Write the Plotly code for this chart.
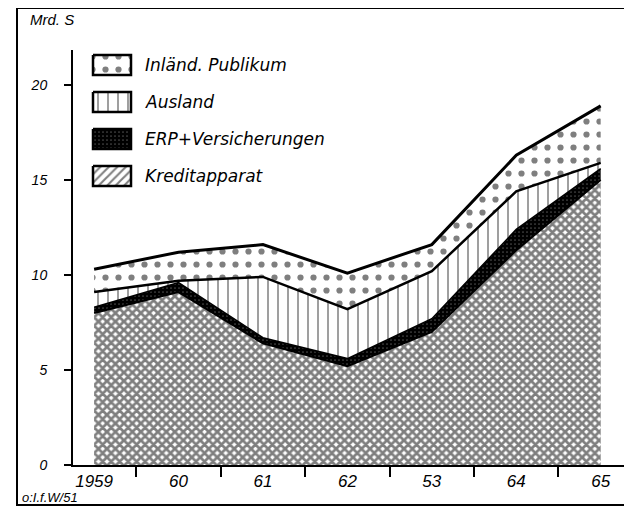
import plotly.graph_objects as go

years = [1959, 1960, 1961, 1962, 1963, 1964, 1965]
year_labels = ["1959", "60", "61", "62", "53", "64", "65"]
kreditapparat = [8.0, 9.1, 6.4, 5.2, 7.0, 11.3, 15.0]
erp_versicherungen = [0.3, 0.5, 0.3, 0.4, 0.7, 1.1, 0.6]
ausland = [0.8, 0.1, 3.2, 2.6, 2.5, 2.0, 0.3]
inland_publikum = [1.2, 1.5, 1.7, 1.9, 1.4, 1.9, 3.0]
y_ticks = [0, 5, 10, 15, 20]
legend_names = ["Inländ. Publikum", "Ausland", "ERP+Versicherungen", "Kreditapparat"]

FONT = "DejaVu Sans"
TFONT = "Liberation Sans"

# page offset (browser body margin) and plot area in page pixels
OFF = 8
PL, PR, PT, PB = 73, 626, 50, 465
W, H = 624, 504


def px_x(p):
    return (p - PL) / (PR - PL)


def px_y(p):
    return (PB - p) / (PB - PT)


pat_kredit = dict(shape="x", size=6, solidity=0.7, fgcolor="black", bgcolor="white")
pat_erp = dict(shape=".", size=4, solidity=0.15, fgcolor="#9a9a9a", bgcolor="black")
pat_ausland = dict(shape="|", size=10, solidity=0.15, fgcolor="black", bgcolor="white")
pat_inland = dict(shape=".", size=13, solidity=0.18, fgcolor="black", bgcolor="white")

fig = go.Figure()

series = [
    ("Kreditapparat", kreditapparat, pat_kredit, 2),
    ("ERP+Versicherungen", erp_versicherungen, pat_erp, 1.5),
    ("Ausland", ausland, pat_ausland, 2.5),
    ("Inländ. Publikum", inland_publikum, pat_inland, 3),
]

for name, vals, pat, lw in series:
    fig.add_trace(go.Scatter(
        x=years, y=vals, name=name, stackgroup="one", mode="lines",
        line=dict(color="black", width=lw),
        fillpattern=pat, fillcolor="white", showlegend=False,
    ))

# custom legend swatches (on an overlay axis measured in page pixels)
legend_pats = [
    pat_inland,
    pat_ausland,
    pat_erp,
    dict(shape="/", size=6, solidity=0.35, fgcolor="black", bgcolor="white"),
]
for i, (nm, pat) in enumerate(zip(legend_names, legend_pats)):
    top = 55 + i * 37
    x0, x1, y0, y1 = 93, 131, top, top + 20
    fig.add_trace(go.Scatter(
        x=[x0, x1, x1, x0, x0], y=[y0, y0, y1, y1, y0],
        xaxis="x2", yaxis="y2", mode="lines", fill="toself",
        fillpattern=pat, fillcolor="white",
        line=dict(color="black", width=2.5),
        showlegend=False, hoverinfo="skip",
    ))
    fig.add_annotation(text=nm, xref="paper", yref="paper",
                       x=px_x(143), y=px_y(top + 10), xanchor="left", yanchor="middle",
                       showarrow=False,
                       font=dict(family=FONT, size=17, style="italic", color="black"))

fig.update_layout(
    width=W, height=H,
    margin=dict(l=PL - OFF, r=W - (PR - OFF), t=PT - OFF, b=H - (PB - OFF)),
    paper_bgcolor="white", plot_bgcolor="white",
    font=dict(family=TFONT, color="black", size=14, style="italic"),
    showlegend=False,
    xaxis=dict(
        range=[1958.75, 1965.3],
        tickmode="array", tickvals=years, ticktext=year_labels,
        ticks="", showgrid=False, zeroline=False,
        showline=True, linecolor="black", linewidth=2,
        tickfont=dict(family=TFONT, size=17, style="italic"),
        minor=dict(tickmode="array", tickvals=[y + 0.5 for y in years[:-1]],
                   ticks="outside", ticklen=10, tickwidth=1.5, tickcolor="black", showgrid=False),
    ),
    yaxis=dict(
        range=[0, (PB - PT) / 19.0],
        tickmode="array", tickvals=y_ticks,
        ticks="outside", ticklen=7, tickwidth=1.5, tickcolor="black",
        ticklabelstandoff=14,
        showgrid=False, zeroline=False,
        showline=True, linecolor="black", linewidth=2,
        tickfont=dict(family=TFONT, size=14, style="italic"),
    ),
    xaxis2=dict(overlaying="x", range=[PL, PR], visible=False, fixedrange=True),
    yaxis2=dict(overlaying="y", range=[PB, PT], visible=False, fixedrange=True),
)

# outer frame
fig.add_shape(type="rect", xref="paper", yref="paper",
              x0=px_x(17), x1=px_x(626), y0=px_y(505), y1=px_y(8),
              line=dict(color="black", width=2))

fig.add_annotation(text="Mrd. S", xref="paper", yref="paper", x=px_x(28), y=px_y(20),
                   xanchor="left", yanchor="middle", showarrow=False,
                   font=dict(family=TFONT, size=15, style="italic"))
fig.add_annotation(text="o:I.f.W/51", xref="paper", yref="paper", x=px_x(20), y=px_y(497),
                   xanchor="left", yanchor="middle", showarrow=False,
                   font=dict(family=TFONT, size=13, style="italic"))

fig.write_html("out.html")
